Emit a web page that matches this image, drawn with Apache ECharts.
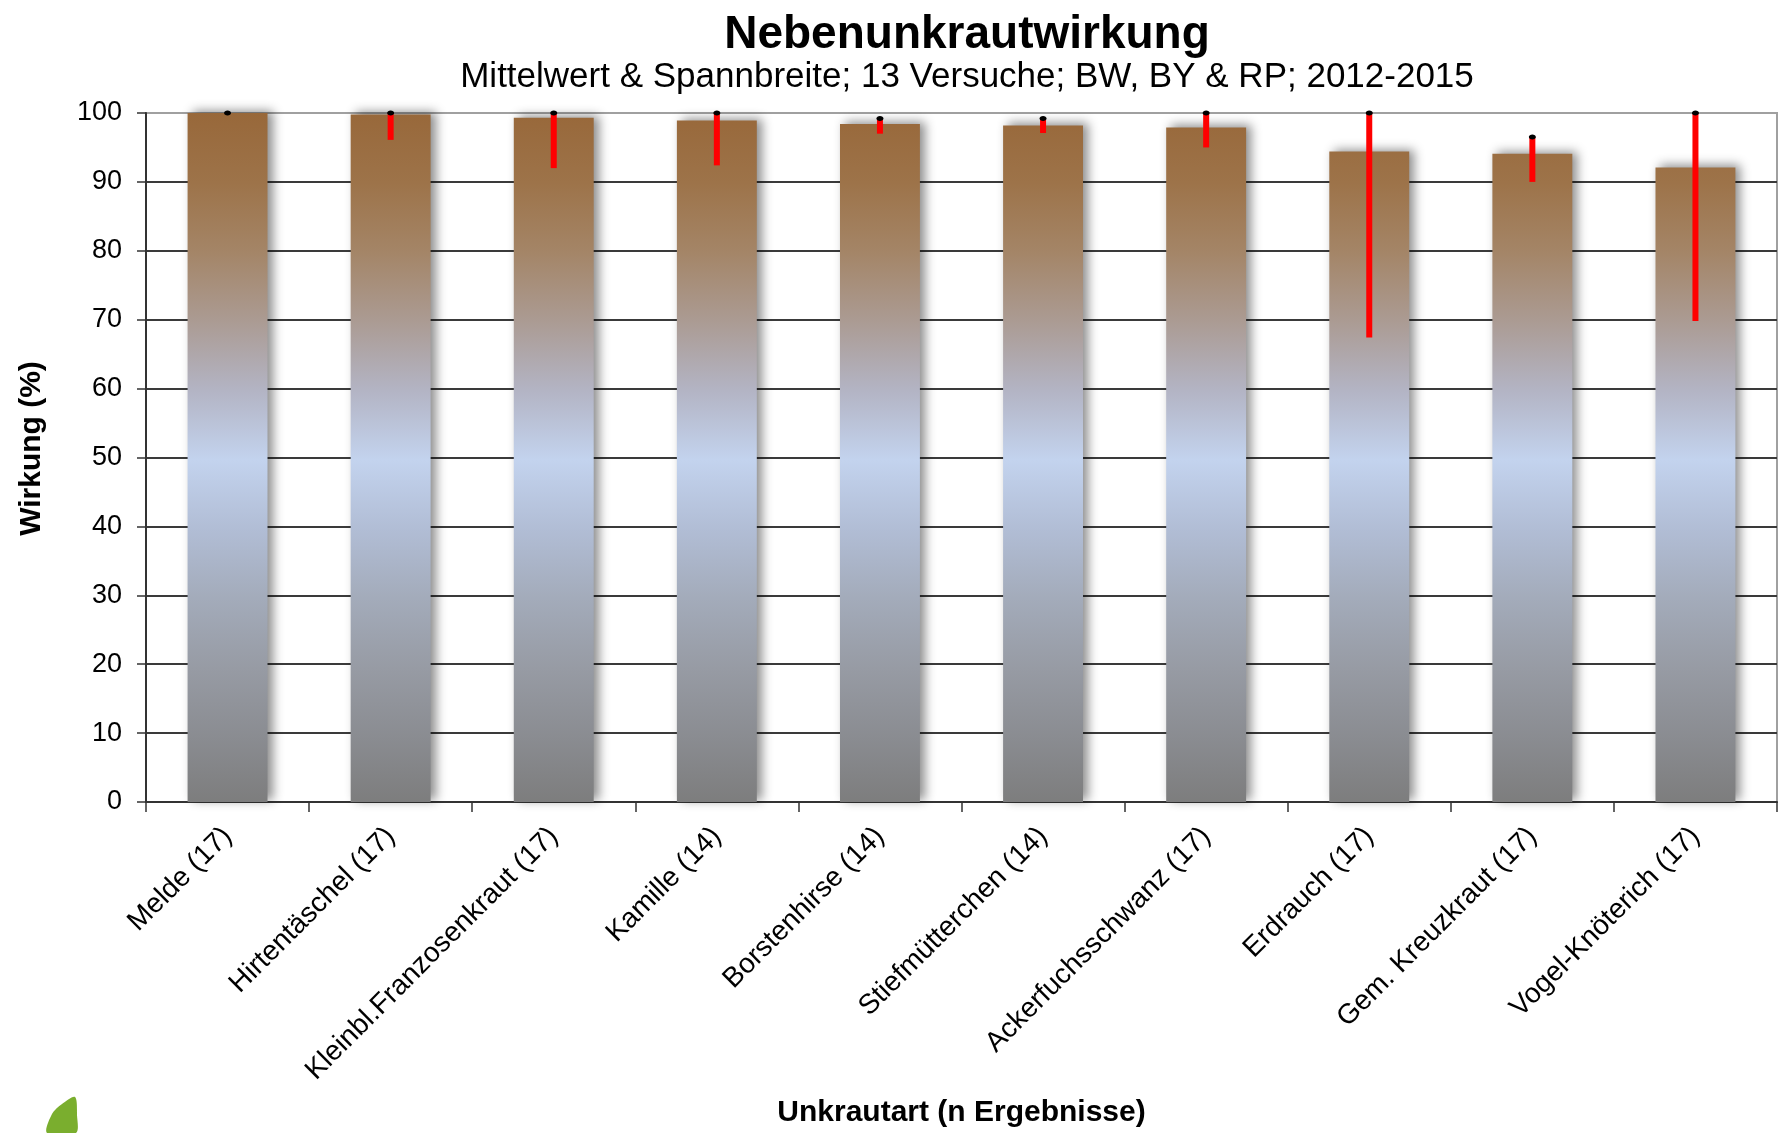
<!DOCTYPE html>
<html>
<head>
<meta charset="utf-8">
<script src="https://cdn.jsdelivr.net/npm/echarts@6/dist/echarts.min.js"></script>
<style>
html, body { margin: 0; padding: 0; background: #ffffff; }
#chart { width: 1778px; height: 1133px; }
</style>
</head>
<body>
<div id="chart"></div>
<script>
// ---- data ----
var categories = ['Melde (17)', 'Hirtentäschel (17)', 'Kleinbl.Franzosenkraut (17)', 'Kamille (14)', 'Borstenhirse (14)', 'Stiefmütterchen (14)', 'Ackerfuchsschwanz (17)', 'Erdrauch (17)', 'Gem. Kreuzkraut (17)', 'Vogel-Knöterich (17)'];
var meanValues = [100, 99.8, 99.3, 98.9, 98.4, 98.2, 97.9, 94.4, 94.1, 92.1];
var minValues  = [100, 96.1, 92.0, 92.4, 97.0, 97.1, 95.0, 67.4, 90.0, 69.8];
var maxValues  = [100, 100, 100, 100, 99.2, 99.2, 100, 100, 96.5, 100];
var yMin = 0, yMax = 100, yInterval = 10;
var titleText = 'Nebenunkrautwirkung';
var subtitleText = 'Mittelwert & Spannbreite; 13 Versuche; BW, BY & RP; 2012-2015';
var xAxisName = 'Unkrautart (n Ergebnisse)';
var yAxisName = 'Wirkung (%)';

var FONT = "'Liberation Sans', Arial, sans-serif";
var GRID_TOP = 113, GRID_BOTTOM_Y = 807;

var rangeData = categories.map(function (c, i) { return [i, minValues[i], maxValues[i]]; });

var barGradient = {
  type: 'linear', x: 0, y: GRID_TOP, x2: 0, y2: GRID_BOTTOM_Y, global: true,
  colorStops: [
    { offset: 0.00, color: '#98683a' },
    { offset: 0.10, color: '#9d7349' },
    { offset: 0.20, color: '#a48567' },
    { offset: 0.30, color: '#ab9b93' },
    { offset: 0.40, color: '#b3b4c4' },
    { offset: 0.50, color: '#c3d3ee' },
    { offset: 0.60, color: '#b1bdd5' },
    { offset: 0.70, color: '#a3abba' },
    { offset: 0.80, color: '#979ba4' },
    { offset: 0.90, color: '#8a8c91' },
    { offset: 1.00, color: '#7c7c7c' }
  ]
};

var splitColors = [];
for (var k = 0; k <= 10; k++) splitColors.push(k === 10 ? '#a0a0a0' : '#3a3a3a');

var chart = echarts.init(document.getElementById('chart'), null, { renderer: 'canvas' });
chart.setOption({
  backgroundColor: '#ffffff',
  animation: false,
  title: [
    { text: titleText, left: 967, top: 12, textAlign: 'center', padding: 0,
      textStyle: { fontFamily: FONT, fontSize: 46, fontWeight: 'bold', color: '#000' } },
    { text: subtitleText, left: 967, top: 60, textAlign: 'center', padding: 0,
      textStyle: { fontFamily: FONT, fontSize: 35, fontWeight: 'normal', color: '#000' } }
  ],
  grid: { left: 146, right: 1, top: GRID_TOP, bottom: 1133 - GRID_BOTTOM_Y,
          show: true, borderColor: '#a0a0a0', borderWidth: 2, backgroundColor: 'transparent' },
  xAxis: {
    type: 'category', data: categories,
    axisLine: { show: true, lineStyle: { color: '#333', width: 2 } },
    axisTick: { show: true, length: 10, lineStyle: { color: '#333', width: 1.5 } },
    axisLabel: { rotate: 45, fontSize: 28, fontFamily: FONT, color: '#000', margin: 30, interval: 0 },
    name: xAxisName, nameLocation: 'middle', nameGap: 296,
    nameTextStyle: { fontFamily: FONT, fontSize: 30, fontWeight: 'bold', color: '#000' },
    splitLine: { show: false }
  },
  yAxis: {
    type: 'value', min: yMin, max: yMax, interval: yInterval,
    axisLine: { show: true, lineStyle: { color: '#333', width: 2 } },
    axisTick: { show: true, length: 9, lineStyle: { color: '#333', width: 1.5 } },
    axisLabel: { fontSize: 27, fontFamily: FONT, color: '#000', margin: 24 },
    splitLine: { show: true, lineStyle: { color: splitColors, width: 2 } },
    name: yAxisName, nameLocation: 'middle', nameGap: 99, nameRotate: 90,
    nameTextStyle: { fontFamily: FONT, fontSize: 30, fontWeight: 'bold', color: '#000', padding: [0, 0, 0, 18] }
  },
  series: [
    {
      type: 'bar', data: meanValues, barWidth: '49%',
      itemStyle: { color: barGradient, shadowColor: 'rgba(0,0,0,0.45)', shadowBlur: 10, shadowOffsetX: 5, shadowOffsetY: -2 },
      z: 2
    },
    {
      type: 'custom', data: rangeData, z: 5,
      renderItem: function (params, api) {
        var i = api.value(0);
        var lo = api.coord([i, api.value(1)]);
        var hi = api.coord([i, api.value(2)]);
        return {
          type: 'group',
          children: [
            { type: 'line', shape: { x1: lo[0], y1: lo[1], x2: hi[0], y2: hi[1] },
              style: { stroke: '#ff0000', lineWidth: 6, lineCap: 'butt' } },
            { type: 'ellipse', shape: { cx: hi[0], cy: hi[1], rx: 3.5, ry: 2.5 },
              style: { fill: '#000' } }
          ]
        };
      }
    }
  ],
  graphic: [
    { type: 'polygon', shape: { smooth: 0.3, points: [[75, 1097], [62, 1104], [52, 1114], [47, 1133], [76, 1133], [77, 1115]] },
      style: { fill: '#7aae2e' } }
  ]
});
</script>
</body>
</html>
